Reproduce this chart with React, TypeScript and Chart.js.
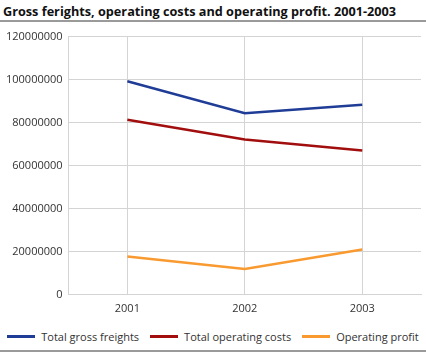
import React, { useEffect, useRef } from "react";
import { Chart, registerables } from "chart.js";

Chart.register(...registerables);

const years = ["2001", "2002", "2003"];
const grossFreights = [99200000, 84400000, 88300000];
const operatingCosts = [81300000, 72100000, 67000000];
const operatingProfit = [17800000, 12000000, 21000000];
const seriesNames = ["Total gross freights", "Total operating costs", "Operating profit"];
const seriesColors = ["#1f3d96", "#a20e0e", "#f99a30"];
const titleText = "Gross ferights, operating costs and operating profit. 2001-2003";

const FONT = "'Open Sans', 'DejaVu Sans', sans-serif";

export default function App() {
  const ref = useRef<HTMLCanvasElement | null>(null);

  useEffect(() => {
    if (!ref.current) return;
    const values = [grossFreights, operatingCosts, operatingProfit];
    const chart = new Chart(ref.current, {
      type: "line",
      data: {
        labels: years,
        datasets: values.map((v, i) => ({
          label: seriesNames[i],
          data: v,
          borderColor: seriesColors[i],
          backgroundColor: seriesColors[i],
          borderWidth: 2.5,
          pointRadius: 0,
          tension: 0,
        })),
      },
      options: {
        animation: false,
        responsive: false,
        maintainAspectRatio: false,
        layout: { padding: { top: 14.5, right: 5, left: 0, bottom: 0 } },
        plugins: {
          legend: { display: false },
          tooltip: { enabled: false },
        },
        scales: {
          x: {
            offset: true,
            grid: { color: "#d4d4d4", offset: false, drawTicks: false, lineWidth: 1 },
            border: { color: "#d4d4d4" },
            ticks: { color: "#333", padding: 7, font: { family: FONT, size: 11 } },
          },
          y: {
            min: 0,
            max: 120000000,
            grid: { color: "#d4d4d4", drawTicks: false, lineWidth: 1 },
            border: { color: "#d4d4d4" },
            ticks: {
              stepSize: 20000000,
              color: "#333",
              padding: 6,
              font: { family: FONT, size: 11 },
              callback: (v: any) => String(v),
            },
          },
        },
      },
    });
    return () => chart.destroy();
  }, []);

  return (
    <div
      style={{
        position: "fixed",
        left: 0,
        top: 0,
        width: 426,
        height: 353,
        background: "#fff",
        fontFamily: FONT,
      }}
    >
      <div
        style={{
          position: "absolute",
          left: 3,
          top: 2,
          fontSize: 12.7,
          fontWeight: "bold",
          color: "#111",
          whiteSpace: "nowrap",
        }}
      >
        {titleText}
      </div>
      <div
        style={{
          position: "absolute",
          left: 0,
          top: 20,
          width: 426,
          height: 1.5,
          background: "#9a9a9a",
        }}
      />
      <canvas
        ref={ref}
        width={426}
        height={300}
        style={{ position: "absolute", left: 0, top: 22, width: 426, height: 300 }}
      />
      <div
        style={{
          position: "absolute",
          left: 0,
          top: 327,
          width: 426,
          height: 18,
          display: "flex",
          justifyContent: "center",
          alignItems: "center",
          fontSize: 11,
          color: "#333",
          whiteSpace: "nowrap",
        }}
      >
        {seriesNames.map((name, i) => (
          <div
            key={name}
            style={{ display: "flex", alignItems: "center", marginLeft: i === 0 ? 0 : 11 }}
          >
            <span
              style={{
                display: "inline-block",
                width: 28,
                height: 3,
                background: seriesColors[i],
                marginRight: 6,
              }}
            />
            <span>{name}</span>
          </div>
        ))}
      </div>
      <div
        style={{
          position: "absolute",
          left: 0,
          top: 350,
          width: 426,
          height: 1.5,
          background: "#9a9a9a",
        }}
      />
    </div>
  );
}
